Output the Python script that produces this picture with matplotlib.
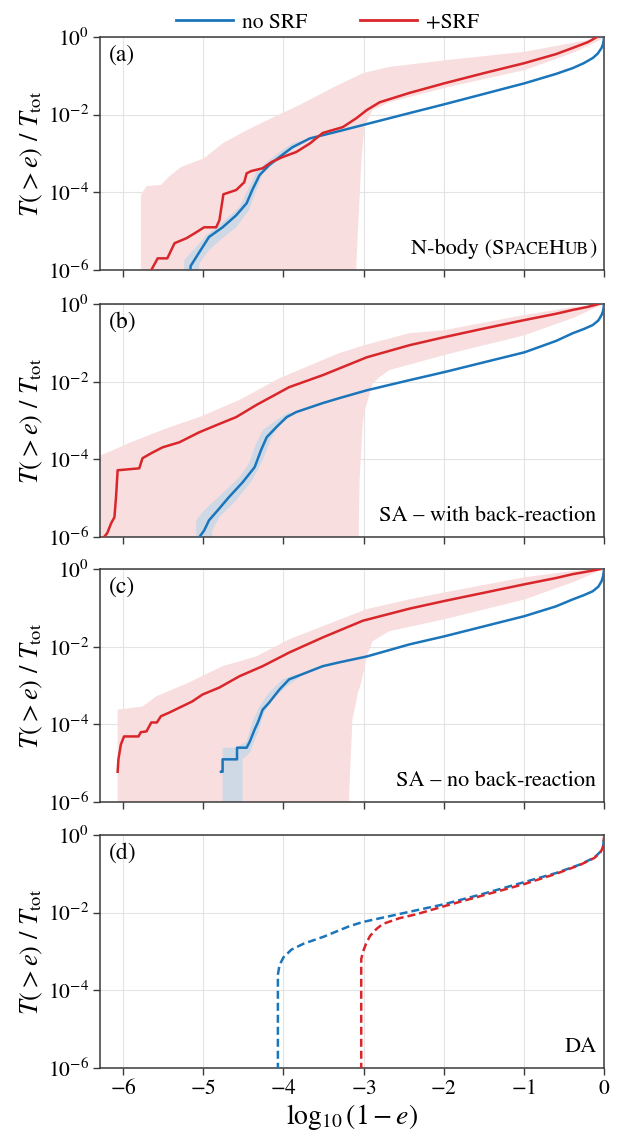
import numpy as np
import matplotlib
matplotlib.use("Agg")
import matplotlib.pyplot as plt
from matplotlib.lines import Line2D
from matplotlib.transforms import offset_copy

plt.rcParams["font.family"] = ["STIXGeneral", "DejaVu Serif"]
plt.rcParams["mathtext.fontset"] = "stix"

BLUE = "#1a75bb"
RED = "#d9262b"
BLUE_BAND = "#cfd9e6"
RED_BAND = "#f8dede"

# ---------------- data: x = log10(1-e), y = log10(T(>e)/T_tot) ----------------
# (a) N-body
a_blue_x = [-5.16, -5.16, -5.09, -5.01, -4.93, -4.76, -4.59, -4.46, -4.39, -4.30, -4.18, -4.05,
            -3.89, -3.67, -3.30, -2.43, -1.99, -0.99, -0.60, -0.39, -0.25, -0.14, -0.08, -0.03,
            -0.012, -0.004, 0.0]
a_blue_y = [-6.0, -5.90, -5.67, -5.41, -5.15, -4.90, -4.59, -4.28, -3.94, -3.56, -3.30, -3.09,
            -2.84, -2.61, -2.42, -1.96, -1.73, -1.19, -0.95, -0.80, -0.67, -0.54, -0.43, -0.28,
            -0.18, -0.08, 0.0]
a_red_x = [-5.65, -5.57, -5.45, -5.36, -5.21, -5.09, -4.99, -4.84, -4.80, -4.75, -4.59, -4.49,
           -4.46, -4.40, -4.26, -4.15, -4.01, -3.84, -3.67, -3.51, -3.26, -3.09, -2.96, -2.80,
           -2.43, -1.99, -1.50, -0.99, -0.60, -0.39, -0.20, -0.09]
a_red_y = [-6.0, -5.70, -5.70, -5.31, -5.18, -5.03, -4.90, -4.90, -4.72, -4.05, -3.94, -3.74,
           -3.51, -3.45, -3.38, -3.22, -3.09, -2.96, -2.74, -2.47, -2.32, -2.09, -1.88, -1.68,
           -1.44, -1.19, -0.93, -0.67, -0.44, -0.28, -0.13, 0.0]
a_redband_up_x = [-5.78, -5.78, -5.71, -5.53, -5.43, -5.28, -4.99, -4.76, -4.46, -4.15, -3.80,
                  -3.39, -3.01, -2.68, -1.99, -0.99, -0.39, 0.0]
a_redband_up_y = [-7.0, -4.07, -3.84, -3.81, -3.60, -3.35, -3.12, -2.74, -2.40, -2.09, -1.75,
                  -1.31, -0.93, -0.77, -0.60, -0.38, -0.15, 0.0]
a_redband_lo_x = [-3.09, -3.09, -3.07, -3.03, -2.99, -2.89, -2.68, -1.99, -0.99, -0.39, -0.05, 0.0]
a_redband_lo_y = [-7.0, -5.80, -4.97, -3.25, -2.32, -1.88, -1.68, -1.31, -0.85, -0.41, -0.08, 0.0]
a_blueband_up_x = [-5.24, -5.24, -5.09, -4.96, -4.76, -4.55, -4.43, -4.34, -4.21, -4.05, -3.89, -3.76]
a_blueband_up_y = [-7.0, -5.75, -5.41, -5.10, -4.77, -4.38, -3.87, -3.48, -3.22, -2.96, -2.74, -2.66]
a_blueband_lo_x = [-5.09, -5.05, -4.93, -4.76, -4.59, -4.43, -4.34, -4.26, -4.09, -3.93, -3.76]
a_blueband_lo_y = [-7.0, -5.83, -5.49, -5.18, -4.90, -4.46, -3.94, -3.51, -3.22, -2.96, -2.70]

# (b) SA with back-reaction
b_blue_x = [-5.05, -4.99, -4.93, -4.82, -4.68, -4.51, -4.36, -4.28, -4.21, -4.09, -3.96, -3.84,
            -3.51, -3.30, -2.96, -2.43, -1.99, -0.99, -0.60, -0.39, -0.25, -0.14, -0.07, -0.03,
            -0.012, -0.004, 0.0]
b_blue_y = [-6.0, -5.83, -5.57, -5.31, -4.97, -4.59, -4.20, -3.76, -3.43, -3.17, -2.91, -2.78,
            -2.55, -2.42, -2.22, -1.96, -1.75, -1.24, -0.95, -0.75, -0.64, -0.54, -0.42, -0.28,
            -0.18, -0.08, 0.0]
b_red_x = [-6.24, -6.20, -6.15, -6.11, -6.09, -6.07, -5.80, -5.76, -5.65, -5.51, -5.30, -5.05,
           -4.84, -4.59, -4.34, -3.93, -3.51, -2.96, -2.43, -1.99, -1.50, -0.99, -0.60,
           -0.39, -0.20, -0.07]
b_red_y = [-6.0, -5.90, -5.64, -5.49, -4.97, -4.28, -4.23, -3.97, -3.84, -3.69, -3.56, -3.30,
           -3.12, -2.91, -2.60, -2.14, -1.83, -1.37, -1.06, -0.85, -0.63, -0.41, -0.25,
           -0.15, -0.07, 0.0]
b_redband_up_x = [-6.28, -6.28, -6.18, -5.93, -5.46, -5.05, -4.55, -4.05, -3.51, -3.30, -2.96,
                  -2.43, -1.99, -0.99, -0.39, 0.0]
b_redband_up_y = [-7.0, -3.89, -3.81, -3.58, -3.20, -2.91, -2.47, -1.91, -1.44, -1.26, -1.04,
                  -0.75, -0.67, -0.28, -0.08, 0.0]
b_redband_lo_x = [-3.07, -3.05, -3.01, -2.99, -2.89, -2.80, -2.68, -1.99, -0.99, -0.39, -0.05, 0.0]
b_redband_lo_y = [-7.0, -4.50, -3.06, -2.78, -2.05, -1.88, -1.70, -1.31, -0.80, -0.36, -0.04, 0.0]
b_blueband_up_x = [-5.09, -5.09, -4.99, -4.76, -4.55, -4.43, -4.34, -4.26, -4.09, -3.93]
b_blueband_up_y = [-7.0, -5.57, -5.31, -4.87, -4.46, -4.10, -3.58, -3.25, -2.99, -2.78]
b_blueband_lo_x = [-4.90, -4.89, -4.80, -4.59, -4.39, -4.26, -4.15, -4.03, -3.89]
b_blueband_lo_y = [-7.0, -5.83, -5.49, -5.05, -4.54, -4.02, -3.43, -3.07, -2.86]

# (c) SA without back-reaction
c_blue_x = [-4.78, -4.76, -4.76, -4.58, -4.58, -4.46, -4.42, -4.36, -4.32, -4.26, -4.18, -4.05,
            -3.93, -3.51, -3.30, -2.96, -2.43, -1.99, -0.99, -0.60, -0.39, -0.25, -0.14, -0.07,
            -0.03, -0.012, -0.004, 0.0]
c_blue_y = [-5.22, -5.22, -4.90, -4.90, -4.60, -4.60, -4.44, -4.13, -3.95, -3.62, -3.44, -3.10,
            -2.84, -2.50, -2.40, -2.25, -1.94, -1.73, -1.21, -0.96, -0.78, -0.67, -0.57, -0.45,
            -0.31, -0.19, -0.08, 0.0]
c_red_x = [-6.07, -6.06, -6.03, -5.99, -5.81, -5.78, -5.71, -5.65, -5.58, -5.53, -5.43, -5.30,
           -5.14, -5.01, -4.80, -4.55, -4.26, -3.93, -3.51, -3.01, -2.43, -1.99, -1.50,
           -0.99, -0.60, -0.39, -0.20, -0.05]
c_red_y = [-5.22, -4.90, -4.52, -4.31, -4.31, -4.20, -4.18, -3.95, -3.95, -3.79, -3.70, -3.57,
           -3.41, -3.23, -3.05, -2.76, -2.50, -2.15, -1.76, -1.33, -1.02, -0.82, -0.61,
           -0.39, -0.23, -0.13, -0.06, 0.0]
c_redband_up_x = [-6.07, -6.07, -5.76, -5.59, -5.18, -4.76, -4.34, -3.93, -3.51, -2.96, -2.43,
                  -1.99, -0.99, -0.39, 0.0]
c_redband_up_y = [-7.0, -3.62, -3.54, -3.28, -2.92, -2.50, -2.25, -1.81, -1.47, -1.03, -0.78,
                  -0.60, -0.21, -0.05, 0.0]
c_redband_lo_x = [-3.19, -3.18, -3.14, -3.07, -3.03, -2.96, -2.89, -2.68, -1.99, -0.99, -0.39,
                  -0.05, 0.0]
c_redband_lo_y = [-7.0, -5.76, -3.88, -3.18, -2.92, -2.25, -1.86, -1.60, -1.29, -0.78, -0.34,
                  -0.04, 0.0]
c_blueband_up_x = [-4.76, -4.76, -4.59, -4.46, -4.39, -4.30, -4.18, -4.01, -3.84]
c_blueband_up_y = [-7.0, -4.60, -4.60, -4.44, -3.95, -3.54, -3.18, -2.84, -2.71]
c_blueband_lo_x = [-4.51, -4.51, -4.42, -4.32, -4.24, -4.14, -3.96, -3.80]
c_blueband_lo_y = [-7.0, -4.90, -4.73, -4.21, -3.70, -3.36, -3.02, -2.79]

# (d) DA
d_blue_x = [-4.07, -4.07, -4.05, -4.00, -3.90, -3.75, -3.50, -3.18, -3.01, -2.50, -1.99, -1.50,
            -0.99, -0.60, -0.30, -0.12, -0.04, -0.01, 0.0]
d_blue_y = [-7.0, -3.60, -3.35, -3.15, -2.95, -2.80, -2.62, -2.35, -2.24, -2.01, -1.78, -1.51,
            -1.21, -0.98, -0.76, -0.58, -0.42, -0.28, -0.05]
d_red_x = [-3.03, -3.03, -3.01, -2.97, -2.92, -2.84, -2.76, -2.55, -2.34, -1.99, -1.50, -0.99,
           -0.60, -0.30, -0.12, -0.04, -0.01, 0.0]
d_red_y = [-7.0, -3.20, -3.02, -2.80, -2.60, -2.42, -2.29, -2.14, -2.04, -1.83, -1.55, -1.26,
           -1.00, -0.77, -0.59, -0.43, -0.30, -0.05]

panel_letters = ["(a)", "(b)", "(c)", "(d)"]
legend_labels = ["no SRF", "+SRF"]
x_ticks = [-6, -5, -4, -3, -2, -1, 0]
y_ticks = [1e-6, 1e-4, 1e-2, 1e0]

panels = [
    dict(blue=(a_blue_x, a_blue_y), red=(a_red_x, a_red_y),
         rband=(a_redband_up_x, a_redband_up_y, a_redband_lo_x, a_redband_lo_y),
         bband=(a_blueband_up_x, a_blueband_up_y, a_blueband_lo_x, a_blueband_lo_y)),
    dict(blue=(b_blue_x, b_blue_y), red=(b_red_x, b_red_y),
         rband=(b_redband_up_x, b_redband_up_y, b_redband_lo_x, b_redband_lo_y),
         bband=(b_blueband_up_x, b_blueband_up_y, b_blueband_lo_x, b_blueband_lo_y)),
    dict(blue=(c_blue_x, c_blue_y), red=(c_red_x, c_red_y),
         rband=(c_redband_up_x, c_redband_up_y, c_redband_lo_x, c_redband_lo_y),
         bband=(c_blueband_up_x, c_blueband_up_y, c_blueband_lo_x, c_blueband_lo_y)),
    dict(blue=(d_blue_x, d_blue_y), red=(d_red_x, d_red_y), dashed=True),
]

# ---------------- figure ----------------
fig = plt.figure(figsize=(6.2, 11.33), dpi=100)
left, width, height = 0.1613, 0.8129, 0.2056
bottoms = [0.7617, 0.5260, 0.2921, 0.0574]


def band(ax, ux, uy, lx, ly, color):
    xs = np.r_[np.asarray(ux), np.asarray(lx)[::-1]]
    ys = 10.0 ** np.r_[np.asarray(uy), np.asarray(ly)[::-1]]
    ax.fill(xs, ys, color=color, lw=0, zorder=1)


axes = []
for i, (p, b) in enumerate(zip(panels, bottoms)):
    ax = fig.add_axes([left, b, width, height])
    axes.append(ax)
    ax.set_yscale("log")
    if "rband" in p:
        band(ax, *p["rband"], RED_BAND)
        band(ax, *p["bband"], BLUE_BAND)
    ls = (0, (3.2, 1.6)) if p.get("dashed") else "-"
    ax.plot(p["blue"][0], 10.0 ** np.asarray(p["blue"][1]), color=BLUE, lw=1.8, ls=ls, zorder=3)
    ax.plot(p["red"][0], 10.0 ** np.asarray(p["red"][1]), color=RED, lw=1.8, ls=ls, zorder=3)

    ax.set_xlim(-6.29, 0)
    ax.set_ylim(1e-6, 1)
    ax.set_xticks(x_ticks)
    ax.set_yticks(y_ticks)
    ax.yaxis.set_minor_locator(matplotlib.ticker.NullLocator())
    ax.grid(True, color="#e3e3e3", lw=0.8, zorder=0)
    ax.set_axisbelow(True)
    for s in ax.spines.values():
        s.set_color("#3a3a3a")
        s.set_linewidth(1.1)
    ax.tick_params(direction="out", length=5, width=1.0, color="#3a3a3a",
                   labelsize=15.5, pad=3)
    if i < 3:
        ax.tick_params(labelbottom=False)
    ax.set_ylabel(r"$T(>e)$ / $T_{\rm tot}$", fontsize=19, labelpad=2)
    ax.text(0.018, 0.97, panel_letters[i], transform=ax.transAxes,
            ha="left", va="top", fontsize=17)

axes[-1].set_xticklabels([r"$-6$", r"$-5$", r"$-4$", r"$-3$", r"$-2$", r"$-1$", r"$0$"])
axes[-1].set_xlabel(r"$\log_{10}(1-e)$", fontsize=20, labelpad=2)

# lower-right method labels; small caps for the code name, laid out right to left
renderer = fig.canvas.get_renderer()
big, small = 16, 12.5
pieces = [("N-body (S", big), ("PACE", small), ("H", big), ("UB", small), (")", big)]
shift = 0.0
for txt, fs in reversed(pieces):
    tr = offset_copy(axes[0].transAxes, fig=fig, x=-shift, y=0, units="dots")
    t = axes[0].text(0.985, 0.07, txt, transform=tr, ha="right", va="baseline", fontsize=fs)
    shift += t.get_window_extent(renderer).width

for ax, lab in zip(axes[1:], ["SA \u2013 with back-reaction", "SA \u2013 no back-reaction", "DA"]):
    ax.text(0.985, 0.07, lab, transform=ax.transAxes, ha="right", va="baseline", fontsize=16)

handles = [Line2D([], [], color=BLUE, lw=2), Line2D([], [], color=RED, lw=2)]
fig.legend(handles, legend_labels, loc="upper center", bbox_to_anchor=(0.528, 1.006), ncol=2,
           frameon=False, fontsize=15.5, handlelength=2.65, columnspacing=2.45,
           handletextpad=0.42)

fig.savefig("out.png", dpi=100)
